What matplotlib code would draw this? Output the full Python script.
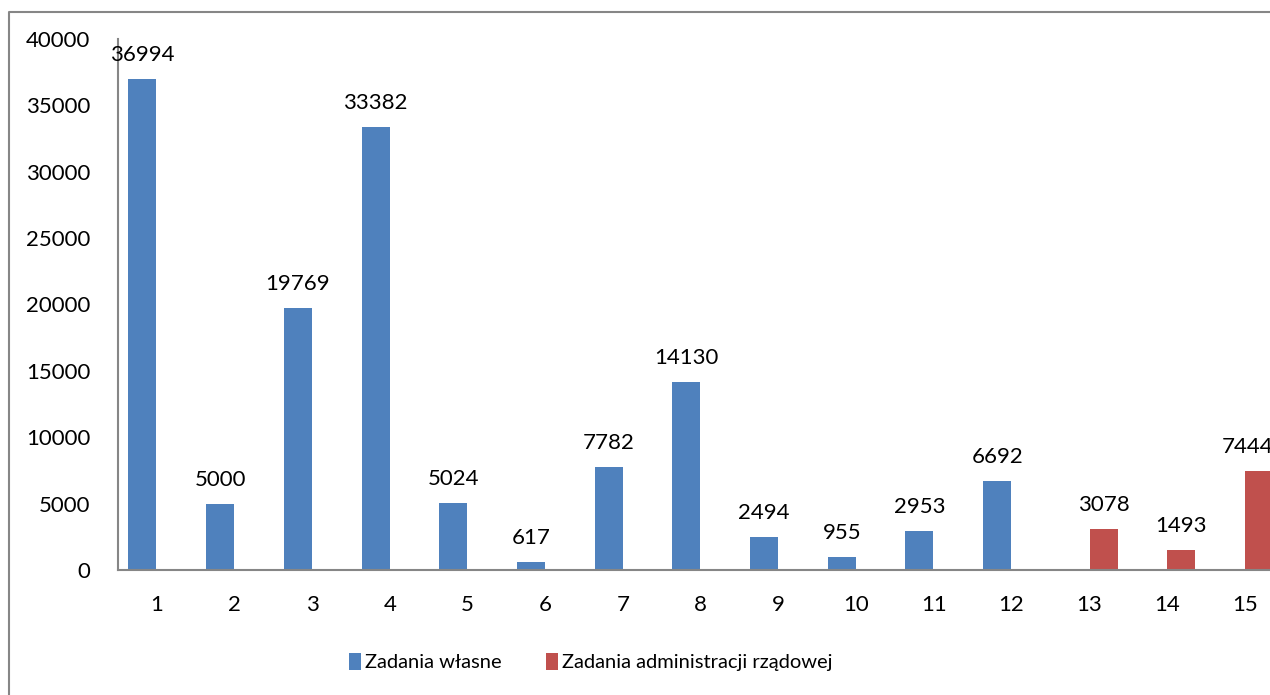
import matplotlib.pyplot as plt
from matplotlib.lines import Line2D

plt.rcParams['font.family'] = ['Lato', 'DejaVu Sans']

categories = [str(i) for i in range(1, 16)]
own_tasks = [36994, 5000, 19769, 33382, 5024, 617, 7782, 14130, 2494, 955, 2953, 6692]
gov_tasks = [3078, 1493, 7444]

blue = '#4F81BD'
red = '#C0504D'
gray = '#868686'

fig = plt.figure(figsize=(12.7, 6.95), dpi=100)
W, H = 1270, 695
ax = fig.add_axes([118 / W, (H - 570) / H, 1165.5 / W, (570 - 39) / H])

width = 0.36
off = 0.185
own_x = [i - off for i in range(len(own_tasks))]
gov_x = [len(own_tasks) + i + off for i in range(len(gov_tasks))]

ax.bar(own_x, own_tasks, width=width, color=blue, label='Zadania własne')
ax.bar(gov_x, gov_tasks, width=width, color=red, label='Zadania administracji rządowej')

points = list(zip(own_x, own_tasks)) + list(zip(gov_x, gov_tasks))
for i, (x, v) in enumerate(points):
    # the last label sits against the chart edge, nudged left like in the original
    dx = -8 if i == len(points) - 1 else 0
    ax.annotate(str(v), (x, v), xytext=(dx, 13), textcoords='offset points',
                ha='center', va='baseline', fontsize=16, annotation_clip=False)

ax.set_xlim(-0.5, len(categories) - 0.5)
ax.set_ylim(0, 40000)
ax.set_yticks(range(0, 40001, 5000))
ax.set_xticks(range(len(categories)))
ax.set_xticklabels(categories)
ax.tick_params(length=0, labelsize=16)
ax.tick_params(axis='y', pad=20)
ax.tick_params(axis='x', pad=18)

for s in ['top', 'right']:
    ax.spines[s].set_visible(False)
for s in ['left', 'bottom']:
    ax.spines[s].set_color(gray)
    ax.spines[s].set_linewidth(1.5)

# outer chart border (cropped on the right and bottom)
bx, by = 9 / W, 1 - 12 / H
fig.add_artist(Line2D([bx, bx, 1.1], [-0.1, by, by], transform=fig.transFigure,
                      color=gray, lw=1.5))

fig.legend(loc='center', bbox_to_anchor=(591 / W, 1 - 662 / H), ncol=2,
           frameon=False, fontsize=14.5, handlelength=0.6, handleheight=0.9,
           handletextpad=0.2, columnspacing=2.2)

fig.savefig('out.png', dpi=100)
